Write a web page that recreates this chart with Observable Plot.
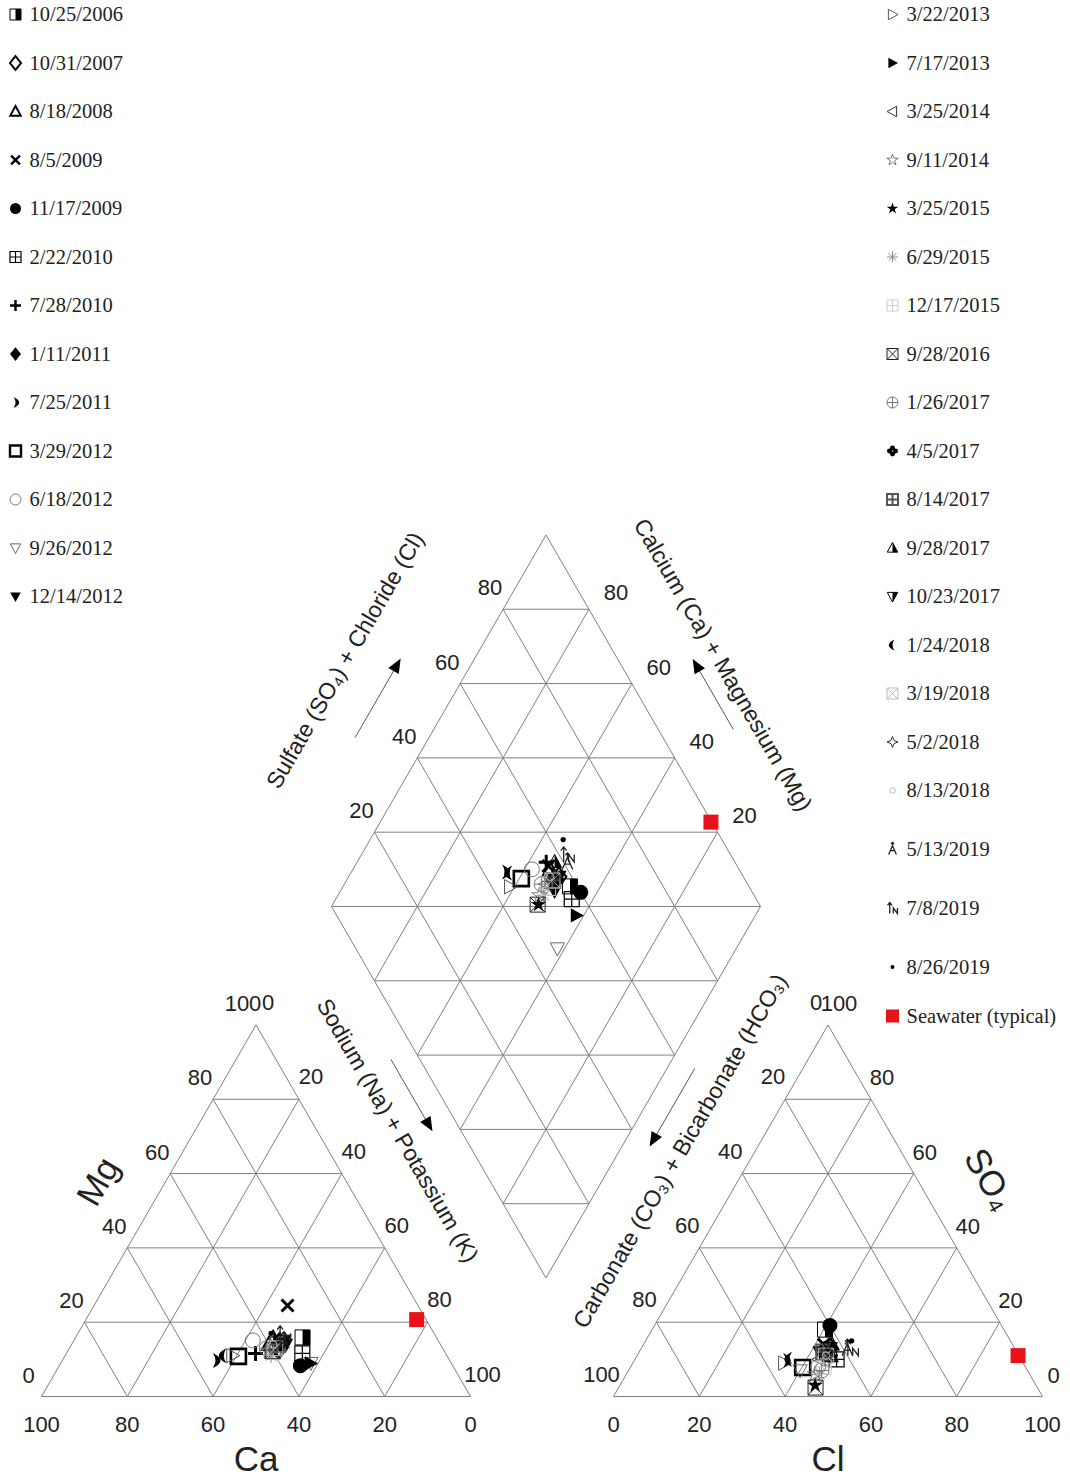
<!DOCTYPE html>
<html><head><meta charset="utf-8">
<script src="https://cdn.jsdelivr.net/npm/d3@7"></script>
<script src="https://cdn.jsdelivr.net/npm/@observablehq/plot@0.6"></script>
<style>body{margin:0;background:#fff;} #chart svg{display:block;}</style>
</head><body><div id="chart"></div>
<script>
// ---------------- DATA (percent of meq/L) ----------------
const dates = ["10/25/2006","10/31/2007","8/18/2008","8/5/2009","11/17/2009","2/22/2010","7/28/2010","1/11/2011","7/25/2011","3/29/2012","6/18/2012","9/26/2012","12/14/2012","3/22/2013","7/17/2013","3/25/2014","9/11/2014","3/25/2015","6/29/2015","12/17/2015","9/28/2016","1/26/2017","4/5/2017","8/14/2017","9/28/2017","10/23/2017","1/24/2018","3/19/2018","5/2/2018","8/13/2018","5/13/2019","7/8/2019","8/26/2019","Seawater (typical)"];
const ca   = [31.2,38,40,30.4,35.5,33.4,44.3,37,54.6,48.7,43.2,32.7,36,50,32.8,40,41,40,41,40,40,41,37,38,38,36,52,39,38,39,36,35,38,2.2];
const mg   = [15.9,13,14,24.5,8.3,11.6,11.6,15,9.7,10.8,15.1,9,14,11,8.9,13,12,12,11,12,12.2,13,14,14,16,15,11,13,14,14,15,17,17,20.7];
const nak  = [52.9,49,46,45.1,56.2,55.0,44.1,48,35.7,40.5,41.7,58.3,50,39,58.3,47,47,48,48,48,47.8,46,49,48,46,49,37,48,48,47,49,48,45,77.1];
const hco3 = [41.7,43,44,44,40,43,44,45,55,52,48.3,53,46,55.7,44.1,47,50,51.5,49,47,51.7,48,44,45,42,43,54,45,44,45,39,38,37,0.2];
const so4  = [18,13,11,14,19.1,10,11,12,9.7,7.8,8,7,12,9,12,10,6,3,6,8,2.4,7,13,12,14,13,10,11,12,11,13,13,15,11];
const cl   = [40.3,44,45,42,40.9,47,45,43,35.3,40.2,43.7,40,42,35.3,43.9,43,44,45.5,45,45,45.9,45,43,43,44,44,36,44,44,44,48,49,48,88.8];
const tickValues = [0,20,40,60,80,100];
const gridSteps = [20,40,60,80];

// ---------------- SYMBOL STYLES ----------------
const TAU = 2*Math.PI;
const shapes = {
  square:(c,r)=>c.rect(-r,-r,2*r,2*r),
  rightHalf:(c,r)=>c.rect(0,-r,r,2*r),
  diamond:(c,r)=>{c.moveTo(0,-1.25*r);c.lineTo(r,0);c.lineTo(0,1.25*r);c.lineTo(-r,0);c.closePath();},
  triUp:(c,r)=>{c.moveTo(0,-r);c.lineTo(0.95*r,0.75*r);c.lineTo(-0.95*r,0.75*r);c.closePath();},
  triDown:(c,r)=>{c.moveTo(0,r);c.lineTo(0.95*r,-0.75*r);c.lineTo(-0.95*r,-0.75*r);c.closePath();},
  triRight:(c,r)=>{c.moveTo(r,0);c.lineTo(-0.75*r,-0.95*r);c.lineTo(-0.75*r,0.95*r);c.closePath();},
  triLeft:(c,r)=>{c.moveTo(-r,0);c.lineTo(0.75*r,-0.95*r);c.lineTo(0.75*r,0.95*r);c.closePath();},
  halfTriUp:(c,r)=>{c.moveTo(0,-r);c.lineTo(0.95*r,0.75*r);c.lineTo(0,0.75*r);c.closePath();},
  halfTriDown:(c,r)=>{c.moveTo(0,r);c.lineTo(0.95*r,-0.75*r);c.lineTo(0,-0.75*r);c.closePath();},
  times:(c,r)=>{const k=0.8*r;c.moveTo(-k,-k);c.lineTo(k,k);c.moveTo(k,-k);c.lineTo(-k,k);},
  plus:(c,r)=>{c.moveTo(-r,0);c.lineTo(r,0);c.moveTo(0,-r);c.lineTo(0,r);},
  circle:(c,r)=>{c.moveTo(r,0);c.arc(0,0,r,0,TAU);},
  smallCircle:(c,r)=>{c.moveTo(0.5*r,0);c.arc(0,0,0.5*r,0,TAU);},
  dot:(c,r)=>{c.moveTo(0.35*r,0);c.arc(0,0,0.35*r,0,TAU);},
  squarePlus:(c,r)=>{c.rect(-r,-r,2*r,2*r);c.moveTo(-r,0);c.lineTo(r,0);c.moveTo(0,-r);c.lineTo(0,r);},
  squareTimes:(c,r)=>{c.rect(-r,-r,2*r,2*r);c.moveTo(-r,-r);c.lineTo(r,r);c.moveTo(r,-r);c.lineTo(-r,r);},
  circlePlus:(c,r)=>{c.moveTo(r,0);c.arc(0,0,r,0,TAU);c.moveTo(-r,0);c.lineTo(r,0);c.moveTo(0,-r);c.lineTo(0,r);},
  star:(c,r)=>{for(let i=0;i<10;i++){const a=-Math.PI/2+i*Math.PI/5, rr=i%2?0.42*r:1.1*r;const x=rr*Math.cos(a),y=rr*Math.sin(a);if(i)c.lineTo(x,y);else c.moveTo(x,y);}c.closePath();},
  star4:(c,r)=>{const k=0.28*r;c.moveTo(0,-r);c.lineTo(k,-k);c.lineTo(r,0);c.lineTo(k,k);c.lineTo(0,r);c.lineTo(-k,k);c.lineTo(-r,0);c.lineTo(-k,-k);c.closePath();},
  asterisk:(c,r)=>{for(let i=0;i<4;i++){const a=i*Math.PI/4;c.moveTo(-r*Math.cos(a),-r*Math.sin(a));c.lineTo(r*Math.cos(a),r*Math.sin(a));}},
  quatrefoil:(c,r)=>{const q=0.45*r,o=0.55*r;for(const [x,y] of [[o,0],[-o,0],[0,o],[0,-o]]){c.moveTo(x+q,y);c.arc(x,y,q,0,TAU);}},
  crescentRight:(c,r)=>{c.moveTo(-0.35*r,-r);c.quadraticCurveTo(1.7*r,0,-0.35*r,r);c.quadraticCurveTo(0.35*r,0,-0.35*r,-r);c.closePath();},
  crescentLeft:(c,r)=>{c.moveTo(0.35*r,-r);c.quadraticCurveTo(-1.7*r,0,0.35*r,r);c.quadraticCurveTo(-0.35*r,0,0.35*r,-r);c.closePath();},
  arrowN:(c,r)=>{c.moveTo(-0.5*r,r);c.lineTo(-0.5*r,-r);c.moveTo(-0.9*r,-0.5*r);c.lineTo(-0.5*r,-r);c.lineTo(-0.1*r,-0.5*r);
    c.moveTo(0.15*r,r);c.lineTo(0.15*r,0);c.lineTo(0.9*r,r);c.lineTo(0.9*r,0);},
  glyphA:(c,r)=>{c.moveTo(-0.7*r,r);c.lineTo(0,-0.6*r);c.lineTo(0.7*r,r);c.moveTo(-0.35*r,0.3*r);c.lineTo(0.35*r,0.3*r);
    c.moveTo(0,-0.6*r);c.lineTo(0,-1.2*r);c.moveTo(-0.3*r,-0.9*r);c.lineTo(0,-1.2*r);c.lineTo(0.3*r,-0.9*r);}
};
const sym = name => ({draw(ctx, size){ shapes[name](ctx, Math.sqrt(size/Math.PI)); }});
// per sample: [shape, mode, colour, strokeWidth]
const styles = [
  [["square","stroke","#000",1],["rightHalf","fill","#000"]],
  [["diamond","stroke","#000",2]],
  [["triUp","stroke","#000",2]],
  [["times","stroke","#000",3]],
  [["circle","fill","#000"]],
  [["squarePlus","stroke","#000",1.2]],
  [["plus","stroke","#000",3]],
  [["diamond","fill","#000"]],
  [["crescentRight","fill","#000"]],
  [["square","stroke","#000",2.6]],
  [["circle","stroke","#777",1]],
  [["triDown","stroke","#666",1]],
  [["triDown","fill","#000"]],
  [["triRight","stroke","#555",1]],
  [["triRight","fill","#000"]],
  [["triLeft","stroke","#333",1]],
  [["star","stroke","#777",1]],
  [["star","fill","#000"]],
  [["asterisk","stroke","#888",1]],
  [["squarePlus","stroke","#ccc",1]],
  [["squareTimes","stroke","#222",1]],
  [["circlePlus","stroke","#777",1]],
  [["quatrefoil","fill","#000"]],
  [["squarePlus","stroke","#555",2]],
  [["triUp","stroke","#000",1],["halfTriUp","fill","#000"]],
  [["triDown","stroke","#000",1],["halfTriDown","fill","#000"]],
  [["crescentLeft","fill","#000"]],
  [["squareTimes","stroke","#bbb",1]],
  [["star4","stroke","#333",1]],
  [["smallCircle","stroke","#bbb",1]],
  [["glyphA","stroke","#222",1.3]],
  [["arrowN","stroke","#222",1.3]],
  [["dot","fill","#000"]],
  [["square","fill","#e8121b"]]
];

// ---------------- GEOMETRY ----------------
const W = 1070, HT = 1477;
const S = 429, H3 = S*Math.sqrt(3)/2;
const LX = 41, RX = 613, BASE = 1396, BX = 545.5, BY = 1277.5;
const left  = (a,b,c) => ({x: LX + S*(c + b/2)/100, y: BASE - H3*b/100}); // Ca, Mg, Na+K
const right = (a,b,c) => ({x: RX + S*(c + b/2)/100, y: BASE - H3*b/100}); // HCO3, SO4, Cl
const dia   = (cm,sc) => ({x: BX + S/2*(sc-cm)/100, y: BY - H3*(sc+cm)/100});

const seg = [];
const addSeg = (p,q) => seg.push({x1:p.x,y1:p.y,x2:q.x,y2:q.y});
for (const f of [left, right]) {
  addSeg(f(100,0,0), f(0,100,0)); addSeg(f(0,100,0), f(0,0,100)); addSeg(f(0,0,100), f(100,0,0));
  for (const t of gridSteps) {
    addSeg(f(100-t,t,0), f(0,t,100-t));
    addSeg(f(t,100-t,0), f(t,0,100-t));
    addSeg(f(100-t,0,t), f(0,100-t,t));
  }
}
addSeg(dia(0,0),dia(100,0)); addSeg(dia(100,0),dia(100,100)); addSeg(dia(100,100),dia(0,100)); addSeg(dia(0,100),dia(0,0));
for (const t of gridSteps) { addSeg(dia(t,0),dia(t,100)); addSeg(dia(0,t),dia(100,t)); }
for (let s=20; s<200; s+=20) { if (s<=100) addSeg(dia(s,0),dia(0,s)); else addSeg(dia(100,s-100),dia(s-100,100)); }

const labels = [];
const lab = (p,dx,dy,t) => labels.push({x:p.x+dx, y:p.y+dy, text:String(t)});
for (const t of tickValues) {
  lab(left(100-t,t,0), -13,-21, t);
  lab(left(0,100-t,t), 12,-22, t);
  lab(left(t,0,100-t), 0, 28, t);
  lab(right(t,100-t,0), -12,-22, t);
  lab(right(0,t,100-t), 11,-21, t);
  lab(right(100-t,0,t), 0, 28, t);
}
for (const t of gridSteps) { lab(dia(100,t), -13,-21, t); lab(dia(t,100), 27,-16, t); }

// diamond edge helpers for titles and arrows
const T = dia(100,100), Lv = dia(100,0), Rv = dia(0,100), Bv = dia(0,0);
const k = Math.sqrt(3)/2;
const nUL=[-k,-0.5], nUR=[k,-0.5], nLL=[-k,0.5], nLR=[k,0.5];
const edgePt = (P,Q,a,o,n) => { const L=Math.hypot(Q.x-P.x,Q.y-P.y); return {x:P.x+(Q.x-P.x)/L*a+n[0]*o, y:P.y+(Q.y-P.y)/L*a+n[1]*o}; };
const unit = (P,Q) => { const L=Math.hypot(Q.x-P.x,Q.y-P.y); return [(Q.x-P.x)/L,(Q.y-P.y)/L]; };

const titlesNeg = [
  {...edgePt(Lv,T,220,111,nUL), text:"Sulfate (SO\u2084) + Chloride (Cl)"},
  {...edgePt(Bv,Rv,177,53,nLR), text:"Carbonate (CO\u2083) + Bicarbonate (HCO\u2083)"}
];
const titlesPos = [
  {...edgePt(T,Rv,201,88,nUR), text:"Calcium (Ca) + Magnesium (Mg)"},
  {...edgePt(Lv,Bv,227,55,nLL), text:"Sodium (Na) + Potassium (K)"}
];
const arrowDefs = [
  {P:Lv,Q:T, a0:158,a1:236,ah:241,o:64,n:nUL, dir:unit(Lv,T)},
  {P:T,Q:Rv, a0:262,a1:194,ah:189,o:65,n:nUR, dir:unit(Rv,T)},
  {P:Lv,Q:Bv,a0:162,a1:232,ah:237,o:25,n:nLL, dir:unit(Lv,Bv)},
  {P:Bv,Q:Rv,a0:256,a1:179,ah:174,o:24,n:nLR, dir:unit(Rv,Bv)}
];
const arrowLines = arrowDefs.map(d => { const p=edgePt(d.P,d.Q,d.a0,d.o,d.n), q=edgePt(d.P,d.Q,d.a1,d.o,d.n); return {x1:p.x,y1:p.y,x2:q.x,y2:q.y}; });
const headSym = ([dx,dy]) => ({draw(c,size){ const r=Math.sqrt(size/Math.PI);
  c.moveTo(dx*1.1*r,dy*1.1*r); c.lineTo(-dx*0.8*r - dy*0.8*r, -dy*0.8*r + dx*0.8*r); c.lineTo(-dx*0.8*r + dy*0.8*r, -dy*0.8*r - dx*0.8*r); c.closePath(); }});

// ---------------- LEGEND LAYOUT ----------------
const nLeft = 13;
const rightGaps = [48.5,48.5,48.5,48.5,48.5,48.5,48.5,48.5,48.5,48.5,48.5,48.5,48.5,48.5,48.5,48.5,58.5,59,59,49];
const legendPos = dates.map((d,i) => {
  if (i < nLeft) return {sx:15, tx:29, y:14 + 48.5*i};
  const j = i - nLeft; let y = 14; for (let m=0;m<j;m++) y += rightGaps[m];
  return {sx:892, tx:906, y};
});

// ---------------- MARKS ----------------
const sans = "Liberation Sans, Arial, Helvetica, sans-serif";
const serif = "Liberation Serif, Times New Roman, serif";
const marks = [
  Plot.link(seg, {x1:"x1",y1:"y1",x2:"x2",y2:"y2", stroke:"#808080", strokeWidth:1}),
  Plot.text(labels, {x:"x",y:"y",text:"text", fontSize:22, fontFamily:sans, fill:"#222"}),
  Plot.text(titlesNeg, {x:"x",y:"y",text:"text", rotate:-60, fontSize:23, fontFamily:sans, fill:"#222"}),
  Plot.text(titlesPos, {x:"x",y:"y",text:"text", rotate:60, fontSize:23, fontFamily:sans, fill:"#222"}),
  Plot.text([{...left(50,0,50), t:"Ca"}], {x:"x", y:d=>d.y+63, text:"t", fontSize:35, fontFamily:sans, fill:"#222"}),
  Plot.text([{...right(50,0,50), t:"Cl"}], {x:"x", y:d=>d.y+63, text:"t", fontSize:35, fontFamily:sans, fill:"#222"}),
  Plot.text([{...left(50,50,0), t:"Mg"}], {x:d=>d.x-k*58, y:d=>d.y-29, text:"t", rotate:-60, fontSize:35, fontFamily:sans, fill:"#222"}),
  Plot.text([{...right(0,50,50), t:"SO\u2084"}], {x:d=>d.x+k*62, y:d=>d.y-31, text:"t", rotate:60, fontSize:35, fontFamily:sans, fill:"#222"}),
  Plot.link(arrowLines, {x1:"x1",y1:"y1",x2:"x2",y2:"y2", stroke:"#555", strokeWidth:1})
];
arrowDefs.forEach(d => {
  const p = edgePt(d.P,d.Q,d.ah,d.o,d.n);
  marks.push(Plot.dot([p], {x:"x", y:"y", r:7.5, symbol:headSym(d.dir), fill:"#000", stroke:"none"}));
});

// sample points in the three fields
dates.forEach((d,i) => {
  const pts = [left(ca[i],mg[i],nak[i]), right(hco3[i],so4[i],cl[i]), dia(ca[i]+mg[i], so4[i]+cl[i])];
  const isSea = i === dates.length-1;
  for (const [shape,mode,color,sw] of styles[i]) {
    marks.push(Plot.dot(pts, {x:"x", y:"y", r: 7.5, symbol:sym(shape),
      fill: mode==="fill" ? color : "none", stroke: mode==="stroke" ? color : "none", strokeWidth: sw || 1}));
  }
});

// legend
dates.forEach((d,i) => {
  const p = legendPos[i];
  const isSea = i === dates.length-1;
  for (const [shape,mode,color,sw] of styles[i]) {
    marks.push(Plot.dot([p], {x:"sx", y:"y", r: isSea ? 6.5 : 5.5, symbol:sym(shape),
      fill: mode==="fill" ? color : "none", stroke: mode==="stroke" ? color : "none", strokeWidth: sw ? Math.min(sw,2.4) : 1}));
  }
});
marks.push(Plot.text(legendPos.map((p,i)=>({...p, label:dates[i]})), {x:"tx", y:"y", text:"label", textAnchor:"start", fontSize:20.5, fontFamily:serif, fill:"#222"}));

const chart = Plot.plot({
  width: W, height: HT, margin: 0,
  x: {domain:[0,W], range:[0,W], axis:null},
  y: {domain:[0,HT], range:[0,HT], axis:null},
  style: {background:"#fff"},
  marks
});
document.getElementById("chart").appendChild(chart);
</script>
</body></html>
